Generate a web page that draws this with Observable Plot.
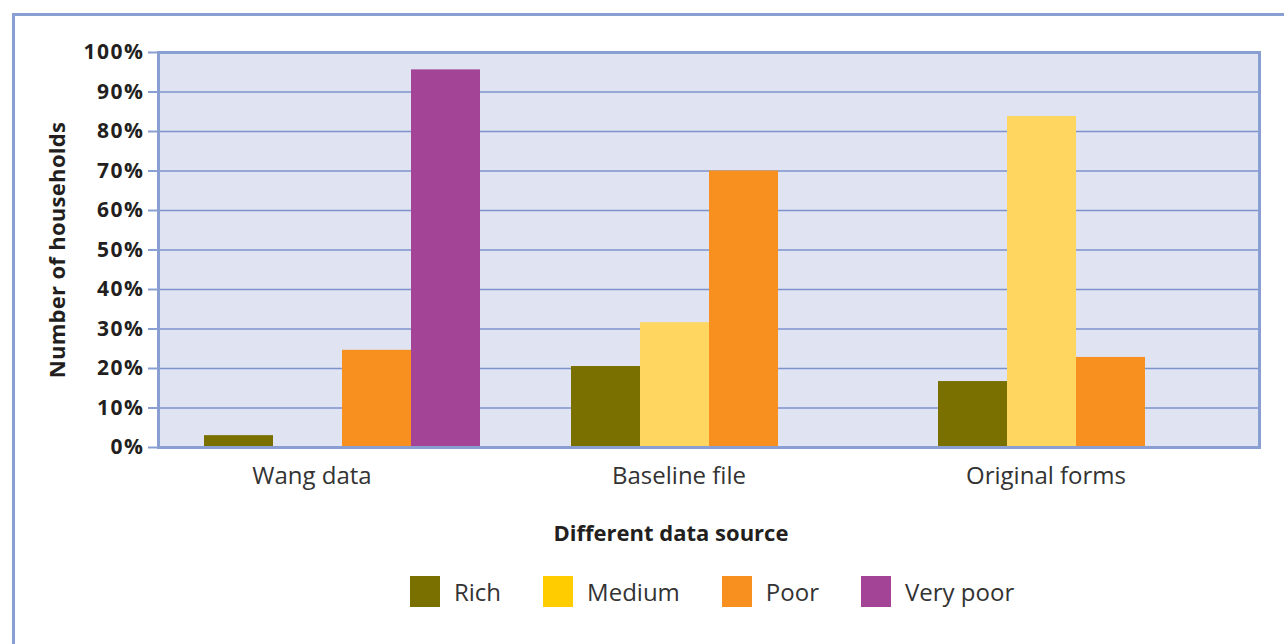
<!DOCTYPE html>
<html>
<head>
<meta charset="utf-8">
<script src="https://cdn.jsdelivr.net/npm/d3@7"></script>
<script src="https://cdn.jsdelivr.net/npm/@observablehq/plot@0.6"></script>
<style>
  html, body { margin: 0; padding: 0; background: #fff; }
  #wrap { position: relative; width: 1284px; height: 644px; overflow: hidden; background: #fff;
          font-family: "Open Sans", sans-serif; color: #231f20; }
  #border { position: absolute; left: 12px; top: 13px; width: 1400px; height: 800px;
            border-top: 3px solid #8a9fd1; border-left: 3px solid #8a9fd1; }
  #chart { position: absolute; left: 0; top: 0; }
  #xtitle { position: absolute; left: 471px; width: 400px; top: 517px; text-align: center;
            font-weight: 700; font-size: 22px; }
  #legend { position: absolute; left: 410px; top: 575px; display: flex; align-items: center; }
  .item { display: flex; align-items: center; margin-right: 42px; }
  .sw { width: 30px; height: 31px; margin-right: 14px; }
  .lab { font-size: 24px; color: #333; }
</style>
</head>
<body>
<div id="wrap">
  <div id="border"></div>
  <div id="chart"></div>
  <div id="xtitle">Different data source</div>
  <div id="legend"></div>
</div>
<script>
// Share of households in each wealth class, by data source (percent)
const sources = ["Wang data", "Baseline file", "Original forms"];
const classes = ["Rich", "Medium", "Poor", "Very poor"];
const rich     = [3, 20.5, 16.7];
const medium   = [0, 31.6, 83.8];
const poor     = [24.6, 70, 22.8];
const veryPoor = [95.6, 0, 0];
const yTicks = [0, 10, 20, 30, 40, 50, 60, 70, 80, 90, 100];

const barColors    = ["#7a7000", "#ffd760", "#f7901e", "#a44496"];
const legendColors = ["#7a7000", "#ffcc00", "#f7901e", "#a44496"];

const series = [rich, medium, poor, veryPoor];
const rows = [];
sources.forEach((s, i) => {
  classes.forEach((c, j) => rows.push({source: s, cls: c, value: series[j][i]}));
});

const yTitle = "Number of households";

const chart = Plot.plot({
  width: 1284,
  height: 500,
  marginTop: 52,
  marginBottom: 53,
  marginLeft: 157,
  marginRight: 24,
  style: {fontFamily: "Open Sans, sans-serif", color: "#231f20", background: "transparent"},
  fx: {domain: sources, padding: 0},
  x: {domain: classes, paddingInner: 0, paddingOuter: 0.645, axis: null},
  y: {domain: [0, 100]},
  color: {domain: classes, range: barColors},
  marks: [
    Plot.frame({fill: "#dfe3f2", facet: "super"}),
    Plot.gridY(yTicks, {stroke: "#7f93cb", strokeOpacity: 1, strokeWidth: 1.6}),
    Plot.barY(rows, {fx: "source", x: "cls", y: "value", fill: "cls"}),
    Plot.frame({stroke: "#8a9fd1", strokeWidth: 3, facet: "super"}),
    Plot.axisY(yTicks, {
      tickFormat: d => d + "%",
      tickSize: 10,
      tickPadding: 4,
      stroke: "#8a9fd1",
      strokeWidth: 2,
      fontSize: 21,
      fontWeight: 700,
      fill: "#231f20",
      label: yTitle,
      labelAnchor: "center",
      labelOffset: 109
    }),
    Plot.axisFx({
      anchor: "bottom",
      tickSize: 0,
      tickPadding: 19,
      fontSize: 24,
      fill: "#333",
      dx: -30,
      label: null
    })
  ]
});
// bold y axis title without the arrow; wider spacing on the percent ticks
d3.select(chart).selectAll("text").filter(function() {
  return this.textContent.startsWith(yTitle);
}).text(yTitle).attr("font-weight", 700).attr("font-size", 22).attr("letter-spacing", 0.3);
d3.select(chart).selectAll("text").filter(function() {
  return /%$/.test(this.textContent);
}).attr("letter-spacing", 1.5);
document.getElementById("chart").appendChild(chart);

// legend swatches
const legend = d3.select("#legend");
classes.forEach((c, i) => {
  const item = legend.append("div").attr("class", "item");
  item.append("div").attr("class", "sw").style("background", legendColors[i]);
  item.append("div").attr("class", "lab").text(c);
});
</script>
</body>
</html>
